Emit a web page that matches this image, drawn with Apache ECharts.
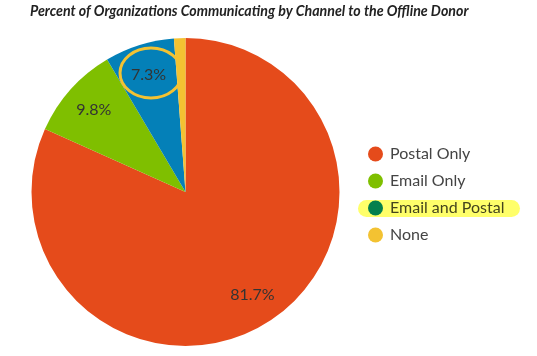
<!DOCTYPE html>
<html>
<head>
<meta charset="utf-8">
<script src="https://cdn.jsdelivr.net/npm/echarts@6/dist/echarts.min.js"></script>
<style>html,body{margin:0;padding:0;background:#fff}#c{width:537px;height:356px}</style>
</head>
<body>
<div id="c"></div>
<script>
var categories = ['Postal Only', 'Email Only', 'Email and Postal', 'None'];
var values = [81.7, 9.8, 7.3, 1.2];
var colors = ['#E54B1B', '#7FBF00', '#0480B8', '#F3C232'];
var showLabel = [true, true, true, false];

var chart = echarts.init(document.getElementById('c'));
var fill = categories.map(function (n, i) {
  return { name: n, value: values[i], itemStyle: { color: colors[i] } };
});
var lab = categories.map(function (n, i) {
  return { name: n, value: values[i], label: { show: showLabel[i] } };
});
chart.setOption({
  animation: false,
  title: {
    text: 'Percent of Organizations Communicating by Channel to the Offline Donor',
    left: 30, top: 4, padding: 0,
    textStyle: { fontFamily: 'Lato', fontStyle: 'italic', fontWeight: 'bold', fontSize: 14.2, color: '#222' }
  },
  legend: {
    orient: 'vertical', left: 368, top: 146, padding: 0,
    icon: 'circle', itemWidth: 15, itemHeight: 15, itemGap: 11,
    textStyle: { fontFamily: 'Lato', fontSize: 16, color: '#444', padding: [0, 0, 0, 2] },
    data: categories
  },
  series: [
    {
      type: 'pie', center: [185.5, 192], radius: [0, 154],
      startAngle: 90, clockwise: true,
      label: { show: false }, labelLine: { show: false },
      silent: true, data: fill
    },
    {
      type: 'pie', center: [185.5, 192], radius: [86, 154],
      startAngle: 90, clockwise: true, silent: true,
      legendHoverLink: false,
      itemStyle: { color: 'rgba(0,0,0,0)' },
      label: { position: 'inside', formatter: '{c}%', fontFamily: 'Lato', fontSize: 16, color: '#333' },
      labelLine: { show: false },
      data: lab
    }
  ],
  graphic: [
    {
      type: 'ellipse', shape: { cx: 151, cy: 73, rx: 31, ry: 25 }, z: 100,
      style: { fill: 'none', stroke: '#F3C232', lineWidth: 3 }
    },
    {
      type: 'rect', shape: { x: 358, y: 200, width: 162, height: 17, r: 8.5 }, z: 100,
      style: { fill: '#FFFF6A', blend: 'multiply' }
    }
  ]
});
</script>
</body>
</html>
